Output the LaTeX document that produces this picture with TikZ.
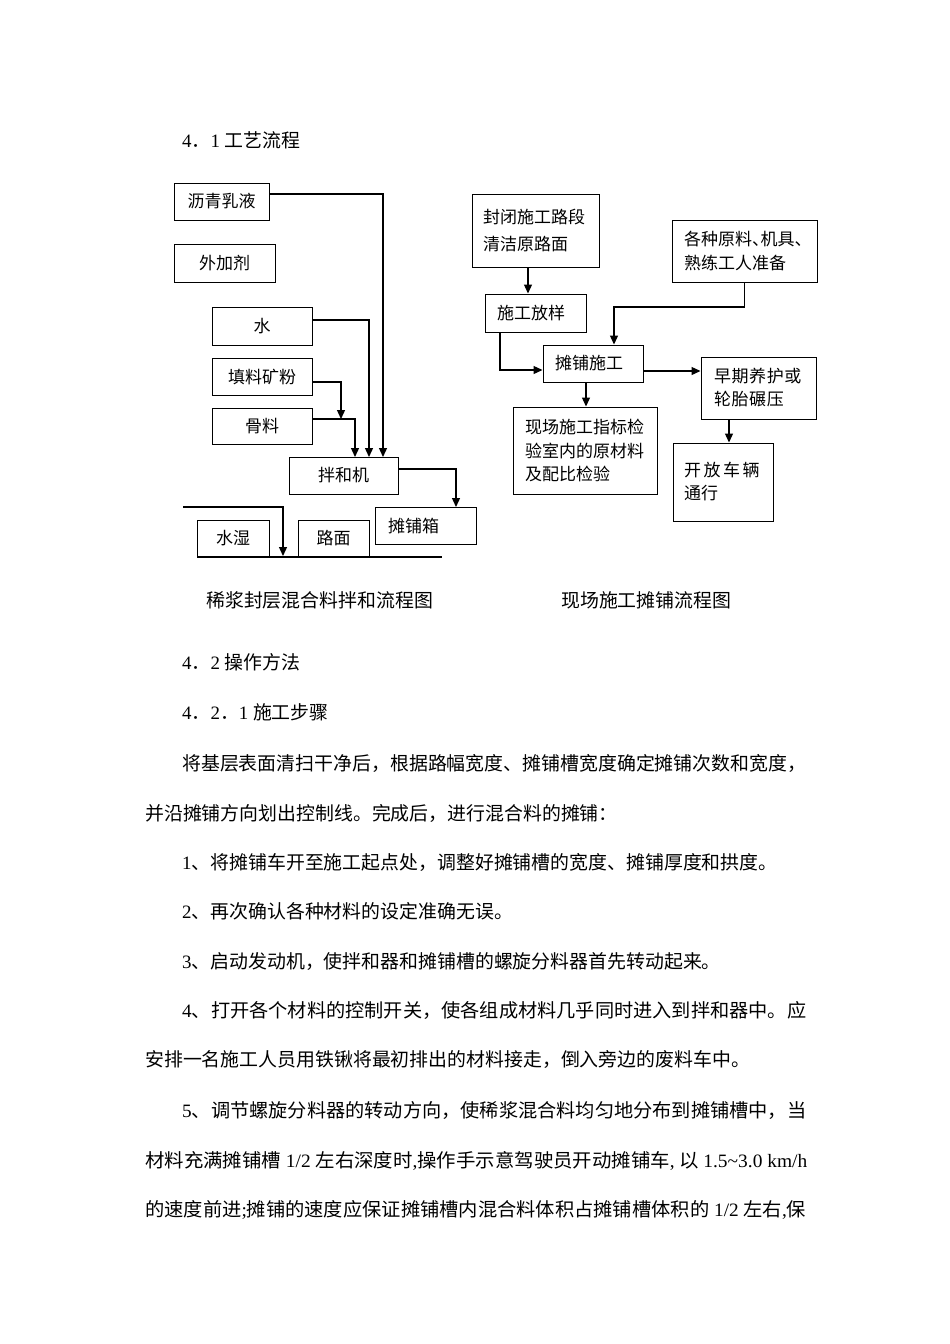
\documentclass[tikz,border=0pt]{standalone}
\usepackage{fontspec}
\setmainfont{Noto Sans CJK SC}
\newfontfamily\lat{Liberation Serif}
\usepackage{graphicx}
\usetikzlibrary{arrows.meta}
\newcommand\bodyfs{\fontsize{18.9}{22}\selectfont}
\newcommand\boxfs{\fontsize{17}{24}\selectfont}
\newcommand\jline[2]{\resizebox{#1pt}{\height}{#2}}
\begin{document}
\begin{tikzpicture}[x=1pt,y=-1pt,
  bx/.style={draw, line width=1pt, inner sep=0pt, font=\boxfs},
  lbx/.style={bx, align=left},
  arr/.style={line width=1.3pt, -{Triangle[length=9pt,width=8pt]}},
  ln/.style={line width=1.1pt},
  txt/.style={anchor=base west, inner sep=0pt, font=\bodyfs}]
\useasboundingbox[fill=white] (0,0) rectangle (950,1344);

% headings
\node[txt] (h1) at (182,147) {{\lat 4}．{\lat 1 }工艺流程};

% ---------- left diagram ----------
\node[bx, minimum width=95, minimum height=37] (lq) at (221.5,201.5) {沥青乳液};
\node[bx, minimum width=101, minimum height=38] (wj) at (224.5,263) {外加剂};
\node[bx, minimum width=100, minimum height=38] (sh) at (262,326) {水};
\node[bx, minimum width=100, minimum height=37] (tl) at (262,376.5) {填料矿粉};
\node[bx, minimum width=100, minimum height=36] (gl) at (262,426) {骨料};
\node[bx, minimum width=109, minimum height=37] (mix) at (343.5,475.5) {拌和机};
\node[lbx, minimum height=37, text width=75, inner xsep=13pt] (tpx) at (425.5,525.5) {摊铺箱};
\node[bx, minimum width=72, minimum height=37] (ss) at (233,538.5) {水湿};
\node[bx, minimum width=71, minimum height=37] (lm) at (333.5,538.5) {路面};

\path ([yshift=7.5pt]lq.east) coordinate (lqE);
\coordinate (m1) at (383,457);
\draw[arr] (lqE) -| (m1);
\path ([yshift=6pt]sh.east) coordinate (shE);
\coordinate (m2) at (369,457);
\draw[arr] (shE) -| (m2);
\path ([yshift=-5.5pt]tl.east) coordinate (tlE);
\coordinate (m3) at (341,419);
\draw[arr] (tlE) -| (m3);
\path ([yshift=7pt]gl.east) coordinate (glE);
\coordinate (m4) at (355,457);
\draw[arr] (glE) -| (m4);
\path ([yshift=6.5pt]mix.east) coordinate (mxE);
\coordinate (m5) at (456,507);
\draw[arr] (mxE) -| (m5);
\coordinate (r0) at (183,507);
\coordinate (r1) at (283,556);
\draw[arr] (r0) -| (r1);
\coordinate (g0) at (197,557);
\coordinate (g1) at (442,557);
\draw[ln] (g0) -- (g1);

% ---------- right diagram ----------
\node[lbx, minimum height=73, text width=105, inner xsep=11pt, font=\fontsize{17}{27}\selectfont] (fb) at (535.5,230.5) {封闭施工路段\\清洁原路面};
\node[lbx, minimum height=38, text width=77, inner xsep=12pt] (sf) at (535.5,313) {施工放样};
\node[lbx, minimum height=62, text width=121, inner xsep=12pt] (gz) at (744.5,251) {各种原料\makebox[8.5pt][l]{、}机具\makebox[8.5pt][l]{、}\\熟练工人准备};
\node[lbx, minimum height=37, text width=76, inner xsep=12pt] (tp) at (593,363.5) {摊铺施工};
\node[lbx, minimum height=62, text width=89, inner xsep=13pt, font=\fontsize{17}{23}\selectfont] (zq) at (758.5,388) {早\hspace{0.6pt}期\hspace{0.6pt}养\hspace{0.6pt}护\hspace{0.6pt}或\\轮\hspace{0.6pt}胎\hspace{0.6pt}碾\hspace{0.6pt}压};
\node[lbx, minimum height=87, text width=120, inner xsep=12pt, font=\fontsize{17}{23.5}\selectfont] (xc) at (585,450.5) {现场施工指标检\\验室内的原材料\\及配比检验};
\node[lbx, minimum height=78, text width=78, inner xsep=11pt, font=\fontsize{17}{23}\selectfont] (kf) at (723,482) {开\hspace{2.5pt}放\hspace{2.5pt}车\hspace{2.5pt}辆\\通行\\[6pt]};

\path ([xshift=-7.5pt]fb.south) coordinate (fbS);
\draw[arr] (fbS) -- (fbS |- sf.north);
\path ([xshift=-35.5pt]sf.south) coordinate (sfS);
\path ([yshift=-6.5pt]tp.west) coordinate (tpW);
\draw[arr] (sfS) |- (tpW);
\coordinate (k1) at (744.5,307);
\path ([xshift=21pt]tp.north) coordinate (tpN);
\draw[arr] (gz.south) -- (k1) -| (tpN);
\path ([yshift=-7.5pt]tp.east) coordinate (tpE);
\draw[arr] (tpE) -- (tpE -| zq.west);
\path ([xshift=-7pt]tp.south) coordinate (tpS);
\draw[arr] (tpS) -- (tpS |- xc.north);
\path ([xshift=-29.5pt]zq.south) coordinate (zqS);
\draw[arr] (zqS) -- (zqS |- kf.north);

% captions
\node[txt] (c1) at (206,607) {稀浆封层混合料拌和流程图};
\node[txt] (c2) at (561,607) {现场施工摊铺流程图};

% body
\node[txt] (h2) at (182,669) {{\lat 4}．{\lat 2 }操作方法};
\node[txt] (h3) at (182,719) {{\lat 4}．{\lat 2}．{\lat 1 }施工步骤};
\node[txt] (p1) at (182,770) {\jline{624}{将基层表面清扫干净后，根据路幅宽度、摊铺槽宽度确定摊铺次数和宽度，}};
\node[txt] (p2) at (145,820) {并沿摊铺方向划出控制线。完成后，进行混合料的摊铺：};
\node[txt] (p3) at (182,869) {{\lat 1}、将摊铺车开至施工起点处，调整好摊铺槽的宽度、摊铺厚度和拱度。};
\node[txt] (p4) at (182,918) {{\lat 2}、再次确认各种材料的设定准确无误。};
\node[txt] (p5) at (182,968) {{\lat 3}、启动发动机，使拌和器和摊铺槽的螺旋分料器首先转动起来。};
\node[txt] (p6) at (182,1017) {\jline{624}{{\lat 4}、打开各个材料的控制开关，使各组成材料几乎同时进入到拌和器中。应}};
\node[txt] (p7) at (145,1066) {安排一名施工人员用铁锹将最初排出的材料接走，倒入旁边的废料车中。};
\node[txt] (p8) at (182,1117) {\jline{624}{{\lat 5}、调节螺旋分料器的转动方向，使稀浆混合料均匀地分布到摊铺槽中，当}};
\node[txt] (p9) at (145,1167) {\jline{662}{材料充满摊铺槽{\lat\ 1/2 }左右深度时{\lat ,}操作手示意驾驶员开动摊铺车{\lat ,} 以{\lat\ 1.5\textasciitilde3.0 km/h}}};
\node[txt] (p10) at (145,1216) {\jline{661}{的速度前进{\lat ;}摊铺的速度应保证摊铺槽内混合料体积占摊铺槽体积的{\lat\ 1/2 }左右{\lat ,}保}};
\end{tikzpicture}
\end{document}
